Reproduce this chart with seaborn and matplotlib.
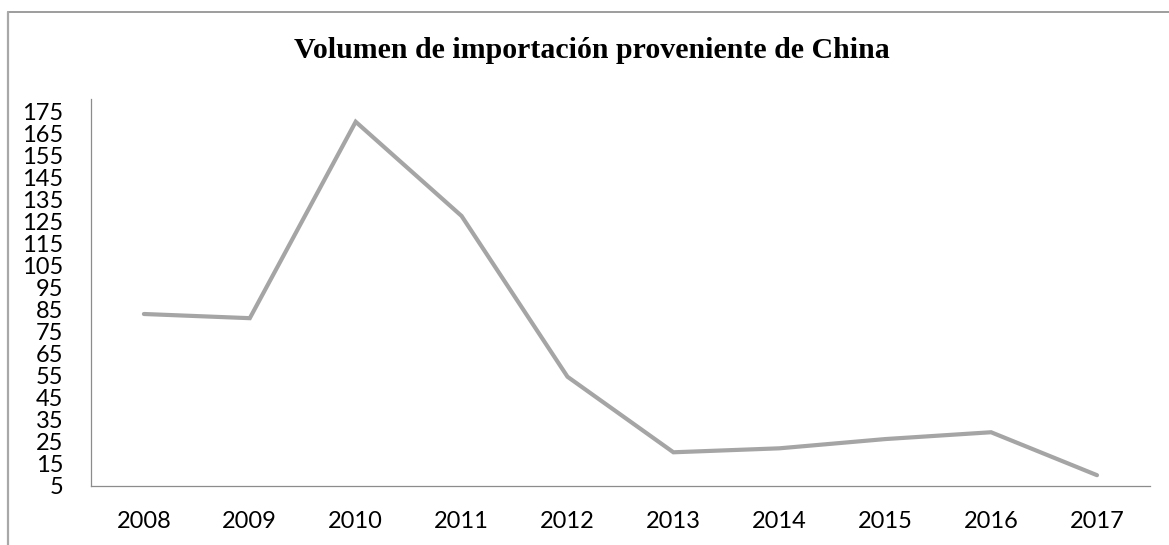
import matplotlib
matplotlib.use('Agg')
import matplotlib.pyplot as plt
import seaborn as sns
import pandas as pd
from matplotlib.lines import Line2D

# Import volume from China, by year
years = ['2008', '2009', '2010', '2011', '2012', '2013', '2014', '2015', '2016', '2017']
volume = [83.1, 81.2, 170.4, 127.6, 54.6, 20.3, 22.1, 26.3, 29.4, 9.9]
y_ticks = list(range(5, 176, 10))

df = pd.DataFrame({'year': years, 'volume': volume})

sns.set_theme(style='white')
plt.rcParams['font.family'] = ['Lato', 'DejaVu Sans']

fig = plt.figure(figsize=(11.69, 5.45), dpi=100)
ax = fig.add_axes([0.0778, 0.1083, 0.9059, 0.7095])

sns.lineplot(data=df, x='year', y='volume', color='#a5a5a5', linewidth=3.0,
             solid_capstyle='round', solid_joinstyle='miter', sort=False, ax=ax)

ax.set_xlim(-0.5, len(years) - 0.5)
ax.set_ylim(5, 180.6)
ax.set_yticks(y_ticks)
ax.set_yticklabels([str(t) for t in y_ticks])
ax.tick_params(axis='both', length=0, labelsize=17, colors='black')
ax.tick_params(axis='y', pad=20)
ax.tick_params(axis='x', pad=18)
ax.set_xlabel('')
ax.set_ylabel('')

for side in ['top', 'right']:
    ax.spines[side].set_visible(False)
for side in ['left', 'bottom']:
    ax.spines[side].set_color('#8c8c8c')
    ax.spines[side].set_linewidth(0.9)

fig.text(0.506, 0.907, 'Volumen de importación proveniente de China',
         ha='center', va='center', fontsize=21.5, fontweight='bold',
         color='black', family=['Liberation Serif', 'DejaVu Serif'])

# outer chart frame (only top and left edges are visible in the crop)
fig.add_artist(Line2D([0.0065, 1.0], [1 - 12.3 / 545, 1 - 12.3 / 545],
                      transform=fig.transFigure, color='#8c8c8c', linewidth=1.2))
fig.add_artist(Line2D([7.5 / 1169, 7.5 / 1169], [0.0, 1 - 12.3 / 545],
                      transform=fig.transFigure, color='#a8a8a8', linewidth=1.6))

plt.savefig('out.png', dpi=100)
plt.close('all')
